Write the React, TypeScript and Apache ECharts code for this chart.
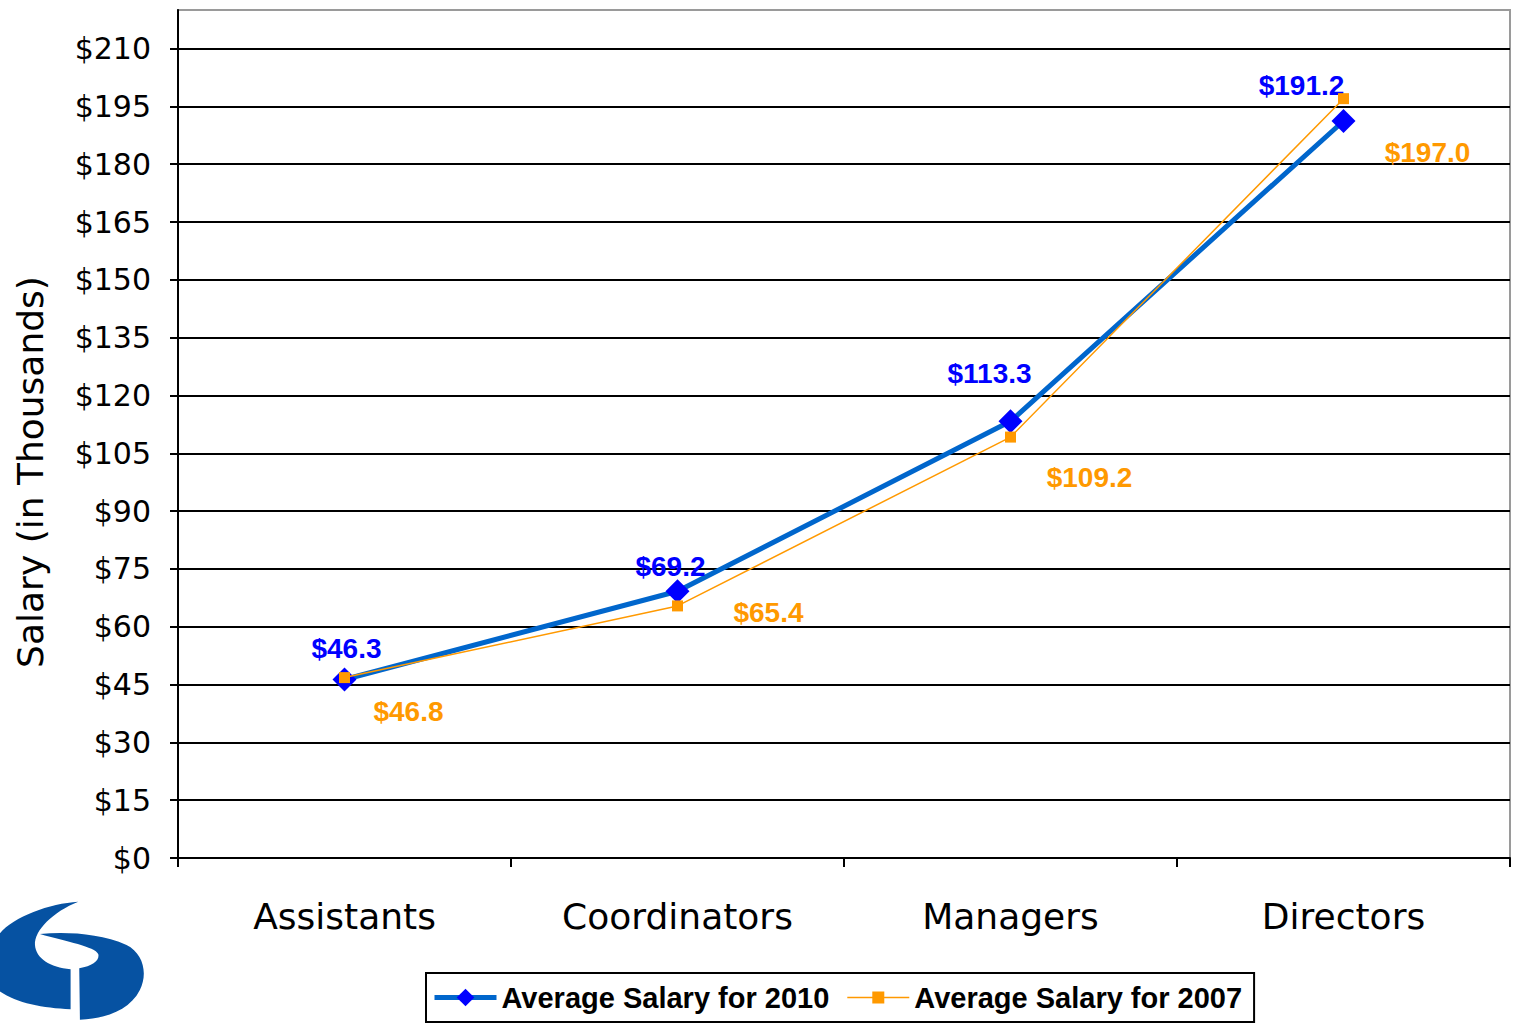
import React, { useEffect, useRef } from "react";
import * as echarts from "echarts";

const categories = ["Assistants", "Coordinators", "Managers", "Directors"];
const salary2010 = [46.3, 69.2, 113.3, 191.2];
const salary2007 = [46.8, 65.4, 109.2, 197.0];
const yTickValues = [0, 15, 30, 45, 60, 75, 90, 105, 120, 135, 150, 165, 180, 195, 210];
const seriesNames = ["Average Salary for 2010", "Average Salary for 2007"];
const axisTitle = "Salary (in Thousands)";

// label placement (style only)
const offsets2010 = [[2, -31], [-7, -25], [-21, -48], [-42, -36]];
const offsets2007 = [[64, 34], [91, 7], [79, 40], [84, 54]];

const LOGO_LEFT =
  "M235 65 C150 70 40 110 0 160 L0 335 C50 370 130 385 212 388 L212 268 C150 262 108 235 105 195 C103 150 160 95 235 65 Z";
const LOGO_RIGHT =
  "M120 162 C200 155 300 160 380 195 C430 220 445 280 420 330 C390 390 320 415 240 420 L238 265 C280 258 300 240 295 222 C285 200 200 185 120 162 Z";

let registered = false;
function registerShapes() {
  if (registered) return;
  echarts.graphic.registerShape("logoLeft", echarts.graphic.extendPath(LOGO_LEFT, {}));
  echarts.graphic.registerShape("logoRight", echarts.graphic.extendPath(LOGO_RIGHT, {}));
  registered = true;
}

const fmt = (v: number) => "$" + v.toFixed(1);

export default function App() {
  const ref = useRef<HTMLDivElement>(null);
  useEffect(() => {
    if (!ref.current) return;
    registerShapes();
    const chart = echarts.init(ref.current, null, { renderer: "svg" });
    const labelFont = { fontFamily: "Liberation Sans, Arial, sans-serif", fontWeight: "bold", fontSize: 28 };
    const option: any = {
      animation: false,
      backgroundColor: "#fff",
      grid: {
        left: 178,
        right: 4,
        top: 10,
        bottom: 169,
        show: true,
        borderColor: "#9a9a9a",
        borderWidth: 2,
        backgroundColor: "transparent",
      },
      xAxis: {
        type: "category",
        data: categories,
        boundaryGap: true,
        axisLine: { lineStyle: { color: "#000", width: 2 } },
        axisTick: { show: true, length: 9, lineStyle: { color: "#000", width: 2 } },
        axisLabel: {
          color: "#000",
          fontFamily: "DejaVu Sans, sans-serif",
          fontSize: 36,
          margin: 40,
        },
        splitLine: { show: false },
      },
      yAxis: {
        type: "value",
        min: 0,
        max: 220,
        interval: 15,
        axisLine: { show: true, lineStyle: { color: "#000", width: 2 } },
        axisTick: { show: true, length: 8, lineStyle: { color: "#000", width: 2 }, customValues: yTickValues },
        axisLabel: {
          color: "#000",
          fontFamily: "DejaVu Sans, sans-serif",
          fontSize: 30,
          margin: 27,
          customValues: yTickValues,
          formatter: (v: number) => "$" + v,
        },
        splitLine: { show: true, lineStyle: { color: "#000", width: 2 } },
      },
      legend: {
        left: 426,
        top: 973,
        orient: "horizontal",
        padding: [10, 12, 10, 6],
        itemGap: 18,
        itemWidth: 62,
        itemHeight: 22,
        borderColor: "#000",
        borderWidth: 2,
        borderRadius: 0,
        textStyle: { color: "#000", fontFamily: "Liberation Sans, Arial, sans-serif", fontWeight: "bold", fontSize: 29 },
        data: [
          { name: seriesNames[0], lineStyle: { width: 5, color: "#0066cc" } },
          { name: seriesNames[1], icon: "path://M0,10.2H25V5H37V10.2H62V11.8H37V17H25V11.8H0Z" },
        ],
      },
      graphic: [
        {
          type: "text",
          x: 30,
          y: 472,
          rotation: Math.PI / 2,
          style: {
            text: axisTitle,
            fill: "#000",
            font: "36px 'DejaVu Sans', sans-serif",
            align: "center",
            verticalAlign: "middle",
          },
        },
        {
          type: "group",
          x: 0,
          y: 880,
          scaleX: 1 / 3,
          scaleY: 1 / 3,
          children: [
            { type: "logoLeft", style: { fill: "#0652a2" } },
            { type: "logoRight", style: { fill: "#0652a2" } },
          ],
        },
      ],
      series: [
        {
          name: seriesNames[0],
          type: "line",
          data: salary2010.map((v, i) => ({
            value: v,
            label: { offset: offsets2010[i] },
          })),
          symbol: "diamond",
          symbolSize: 24,
          lineStyle: { color: "#0066cc", width: 5 },
          itemStyle: { color: "#0000ff" },
          z: 2,
          label: {
            show: true,
            position: "inside",
            color: "#0000ff",
            ...labelFont,
            formatter: (p: any) => fmt(p.value),
          },
        },
        {
          name: seriesNames[1],
          type: "line",
          data: salary2007.map((v, i) => ({
            value: v,
            label: { offset: offsets2007[i] },
          })),
          symbol: "rect",
          symbolSize: 11,
          lineStyle: { color: "#ff9900", width: 1.5 },
          itemStyle: { color: "#ff9900" },
          z: 3,
          label: {
            show: true,
            position: "inside",
            color: "#ff9900",
            ...labelFont,
            formatter: (p: any) => fmt(p.value),
          },
        },
      ],
    };
    chart.setOption(option);
    return () => chart.dispose();
  }, []);
  return (
    <div
      ref={ref}
      style={{ position: "fixed", left: 0, top: 0, width: 1514, height: 1027, background: "#fff" }}
    />
  );
}
